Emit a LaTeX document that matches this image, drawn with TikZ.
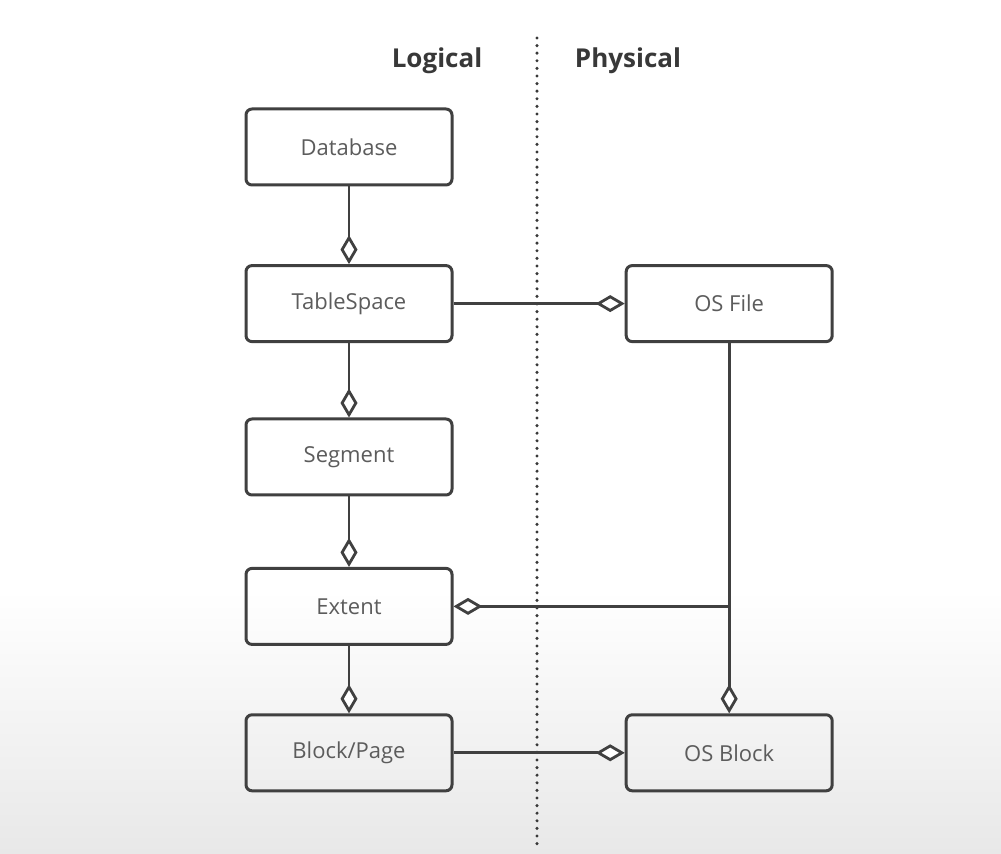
\documentclass[tikz,border=0pt]{standalone}
\usepackage{fontspec}
\setmainfont{Open Sans}
\usetikzlibrary{positioning,arrows.meta}

\begin{document}
\begin{tikzpicture}[x=0.5pt, y=-0.5pt]

    %
    % Styles for storage objects and their links
    %
    \tikzstyle{object} = [draw=black!75, line width=1.5pt, rectangle, rounded corners=3pt, align=center,
                          minimum height=38pt, minimum width=103pt,
                          font={\fontsize{11}{13}\selectfont}, text=black!64]
    \tikzstyle{header} = [font={\fontsize{13}{15}\selectfont\bfseries}, text=black!78];
    \tikzstyle{link} = [draw=black!75, line width=1.4pt];
    \tikzstyle{aggregation} = [link, -{Diamond[open, fill=white, length=14.5pt, width=8.5pt]}];
    \tikzstyle{divider} = [black!78, line width=1.7pt, dash pattern=on 0pt off 3.8pt, line cap=round];

    \useasboundingbox (0,0) rectangle (1001,854);
    \fill[white] (0,0) rectangle (1001,590);
    \shade[top color=white, bottom color=black!9] (0,590) rectangle (1001,854);

    %
    % Logical side
    %
    \node[object, name=database] at (349,147) {Database};
    \node[object, name=tablespace, below=38.8pt of database] {TableSpace};
    \node[object, name=segment, below=37.2pt of tablespace] {Segment};
    \node[object, name=extent, below=35.2pt of segment] {Extent};
    \node[object, name=blockpage, below=33.7pt of extent] {Block/Page};

    %
    % Physical side
    %
    \node[object, name=osfile, right=85.6pt of tablespace] {OS File};
    \node[object, name=osblock, right=85.6pt of blockpage] {OS Block};

    %
    % Headers and the dotted divider
    %
    \node[header, name=logical] at (437,61) {Logical};
    \node[header, name=physical] at (628,61) {Physical};
    \coordinate (divtop) at (537,38);
    \coordinate (divbottom) at (537,848);
    \draw[divider] (divtop) -- (divbottom);

    %
    % Connect objects via aggregation links
    %
    \draw (database)
      edge[aggregation] (tablespace);
    \draw (tablespace)
      edge[aggregation] (segment);
    \draw (segment)
      edge[aggregation] (extent);
    \draw (extent)
      edge[aggregation] (blockpage);

    \draw (tablespace)
      edge[aggregation] (osfile);
    \draw (osfile)
      edge[aggregation] (osblock);
    \draw (blockpage)
      edge[aggregation] (osblock);

    \coordinate (fork) at (osfile.south |- extent.east);
    \draw (fork)
      edge[aggregation] (extent);
\end{tikzpicture}
\end{document}
